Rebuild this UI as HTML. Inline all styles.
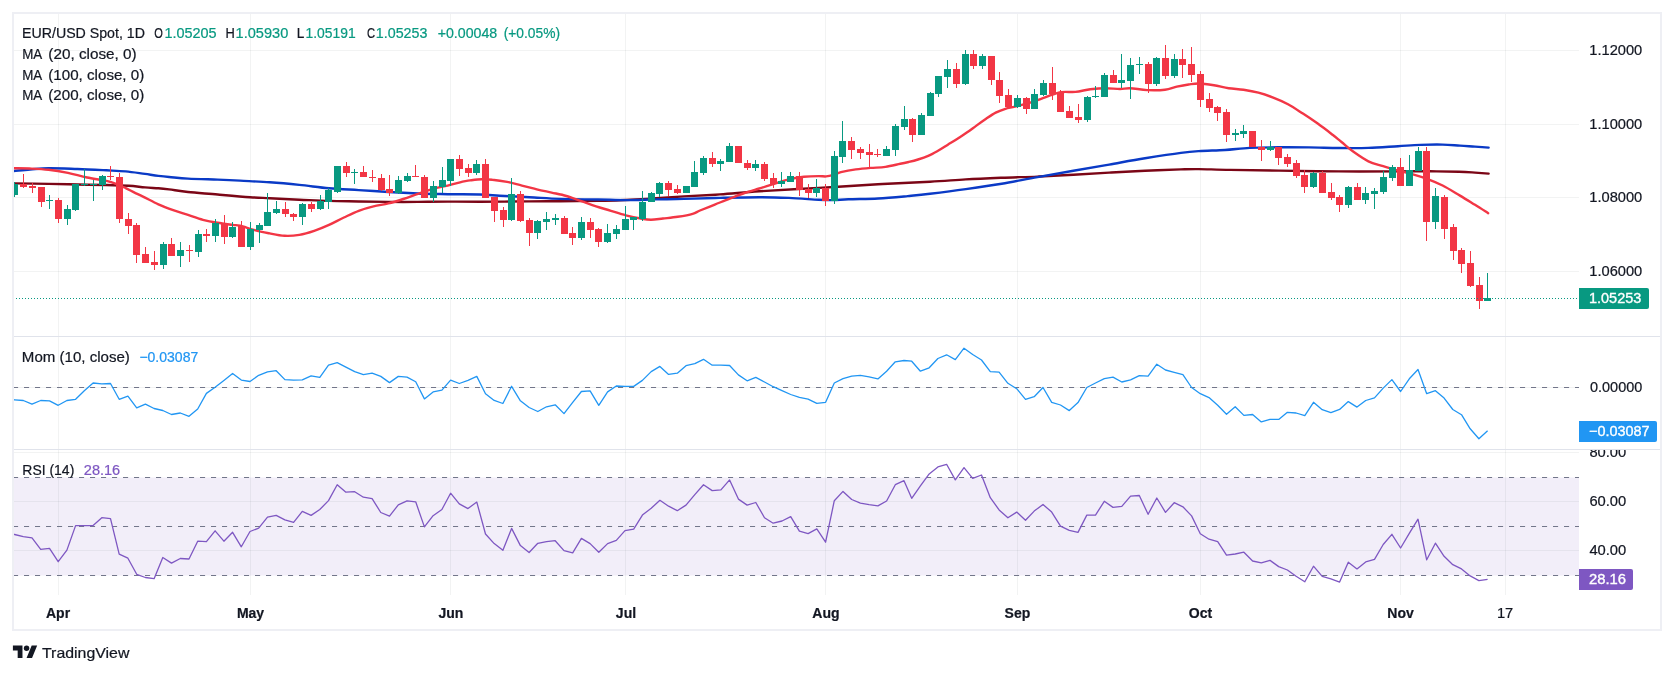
<!DOCTYPE html><html><head><meta charset="utf-8"><title>EUR/USD</title><style>html,body{margin:0;padding:0;background:#fff}body{width:1674px;height:674px;overflow:hidden}</style></head><body><svg width="1674" height="674" viewBox="0 0 1674 674" style="will-change:transform;display:block;font-family:'Liberation Sans',sans-serif">
<rect width="1674" height="674" fill="#fff"/>
<defs><clipPath id="cp"><rect x="14" y="14" width="1565" height="322"/></clipPath><clipPath id="cm"><rect x="14" y="337" width="1565" height="112"/></clipPath><clipPath id="cr"><rect x="14" y="450" width="1565" height="145"/></clipPath><clipPath id="cax"><rect x="1579" y="450" width="81" height="145"/></clipPath></defs>
<rect x="14" y="477.5" width="1565" height="98" fill="#f2eef9"/>
<rect x="58" y="14" width="1" height="581" fill="rgba(42,46,57,0.06)"/>
<rect x="250" y="14" width="1" height="581" fill="rgba(42,46,57,0.06)"/>
<rect x="450" y="14" width="1" height="581" fill="rgba(42,46,57,0.06)"/>
<rect x="625" y="14" width="1" height="581" fill="rgba(42,46,57,0.06)"/>
<rect x="825" y="14" width="1" height="581" fill="rgba(42,46,57,0.06)"/>
<rect x="1017" y="14" width="1" height="581" fill="rgba(42,46,57,0.06)"/>
<rect x="1200" y="14" width="1" height="581" fill="rgba(42,46,57,0.06)"/>
<rect x="1400" y="14" width="1" height="581" fill="rgba(42,46,57,0.06)"/>
<rect x="1505" y="14" width="1" height="581" fill="rgba(42,46,57,0.06)"/>
<rect x="14" y="50" width="1565" height="1" fill="rgba(42,46,57,0.06)"/>
<rect x="14" y="124" width="1565" height="1" fill="rgba(42,46,57,0.06)"/>
<rect x="14" y="197" width="1565" height="1" fill="rgba(42,46,57,0.06)"/>
<rect x="14" y="271" width="1565" height="1" fill="rgba(42,46,57,0.06)"/>
<rect x="14" y="387" width="1565" height="1" fill="rgba(42,46,57,0.06)"/>
<rect x="14" y="452" width="1565" height="1" fill="rgba(42,46,57,0.06)"/>
<rect x="14" y="501" width="1565" height="1" fill="rgba(42,46,57,0.06)"/>
<rect x="14" y="550" width="1565" height="1" fill="rgba(42,46,57,0.06)"/>
<rect x="14" y="336" width="1647" height="1" fill="#e0e3eb"/>
<rect x="14" y="449" width="1647" height="1" fill="#e0e3eb"/>
<path d="M13 387.5H1579" stroke="#72768a" stroke-width="1" stroke-dasharray="5.1 5.9" fill="none"/>
<path d="M13 477.5H1579" stroke="#72768a" stroke-width="1" stroke-dasharray="5.1 5.9" fill="none"/>
<path d="M13 526.5H1579" stroke="#72768a" stroke-width="1" stroke-dasharray="5.1 5.9" fill="none"/>
<path d="M13 575.5H1579" stroke="#72768a" stroke-width="1" stroke-dasharray="5.1 5.9" fill="none"/>
<g clip-path="url(#cp)" fill="none" stroke-linejoin="round" stroke-linecap="round">
<path d="M13.0 183.4C18.9 183.5 37.9 183.7 48.6 183.9C59.4 184.1 67.9 184.3 77.5 184.5C87.1 184.7 97.9 184.8 106.4 185.0C114.9 185.2 122.3 185.4 128.7 185.8C135.1 186.2 140.1 187.0 145.0 187.4C149.9 187.8 154.4 188.0 158.4 188.3C162.4 188.6 164.2 188.8 169.1 189.4C174.0 190.0 179.9 191.2 188.0 192.0C196.1 192.8 207.4 193.6 217.7 194.5C228.0 195.4 241.3 196.6 250.0 197.2C258.7 197.8 261.5 197.8 269.7 198.2C277.9 198.6 289.4 199.2 299.3 199.7C309.2 200.1 319.1 200.6 329.0 200.9C338.9 201.2 348.8 201.3 358.7 201.5C368.6 201.7 378.5 201.8 388.4 201.9C398.3 202.0 408.1 202.0 418.0 201.9C427.9 201.8 437.4 201.6 447.7 201.6C458.0 201.6 466.4 201.7 480.0 201.7C493.6 201.7 516.0 201.5 529.3 201.4C542.6 201.3 548.5 201.3 560.0 201.2C571.5 201.1 588.0 201.0 598.0 200.8C608.0 200.6 612.8 200.5 620.0 200.2C627.2 199.9 635.0 199.5 641.0 199.2C647.0 198.9 648.8 198.7 656.0 198.2C663.2 197.7 673.3 197.0 684.0 196.4C694.7 195.8 707.5 195.2 720.0 194.4C732.5 193.6 742.8 192.4 759.3 191.3C775.8 190.2 798.9 189.1 818.7 187.9C838.5 186.7 859.5 185.3 878.0 184.3C896.5 183.3 915.4 182.5 930.0 181.7C944.6 180.9 953.8 180.1 965.8 179.4C977.8 178.7 989.8 178.2 1001.7 177.7C1013.7 177.2 1025.5 177.1 1037.5 176.6C1049.5 176.1 1061.5 175.5 1073.4 174.8C1085.4 174.1 1097.3 173.3 1109.2 172.6C1121.1 171.9 1133.0 171.3 1145.0 170.8C1157.0 170.3 1171.9 169.7 1180.9 169.4C1189.9 169.1 1190.6 169.0 1198.8 169.1C1207.0 169.2 1216.6 169.7 1230.0 169.9C1243.4 170.2 1260.9 170.3 1279.0 170.6C1297.1 170.8 1318.9 171.3 1338.7 171.4C1358.5 171.5 1382.8 171.4 1398.0 171.4C1413.2 171.4 1419.8 171.2 1430.0 171.3C1440.2 171.4 1451.4 171.6 1458.9 171.8C1466.4 172.0 1470.0 172.3 1475.0 172.6C1480.0 172.9 1486.3 173.4 1488.6 173.6" stroke="#7b0616" stroke-width="2.4"/>
<path d="M13.4 171.0C16.2 170.8 24.1 169.9 30.0 169.5C35.9 169.1 40.7 168.4 48.6 168.3C56.5 168.2 67.9 168.7 77.5 169.0C87.1 169.3 98.4 169.9 106.4 170.3C114.4 170.7 119.3 170.8 125.7 171.4C132.1 172.0 139.6 173.2 145.0 173.9C150.4 174.7 154.4 175.4 158.4 175.9C162.4 176.4 164.2 176.6 169.1 177.0C174.0 177.4 179.9 178.2 188.0 178.6C196.1 179.0 209.0 179.3 217.7 179.6C226.4 179.9 231.3 180.1 240.0 180.6C248.7 181.1 259.8 181.6 269.7 182.3C279.6 183.0 289.4 183.9 299.3 184.9C309.2 185.9 319.1 187.4 329.0 188.3C338.9 189.2 348.8 189.5 358.7 190.1C368.6 190.7 378.5 191.4 388.4 192.0C398.3 192.6 408.1 193.1 418.0 193.5C427.9 193.9 437.4 194.0 447.7 194.2C458.0 194.4 471.3 194.2 480.0 194.5C488.7 194.8 491.5 195.2 499.7 195.7C507.9 196.1 519.2 196.7 529.3 197.2C539.3 197.7 548.5 198.5 560.0 198.9C571.5 199.3 586.8 199.3 598.0 199.5C609.2 199.7 617.4 200.1 627.0 200.1C636.6 200.1 646.1 199.6 655.6 199.4C665.1 199.2 673.3 199.2 684.0 198.9C694.7 198.7 707.5 198.2 720.0 197.9C732.5 197.6 747.8 197.2 759.3 197.2C770.8 197.2 779.1 197.5 789.0 197.9C798.9 198.3 811.3 199.4 818.7 199.8C826.1 200.2 828.5 200.2 833.5 200.1C838.5 200.0 841.0 199.6 848.4 199.3C855.8 199.0 868.1 199.0 878.0 198.5C887.9 198.0 899.0 196.9 907.7 196.1C916.4 195.3 920.3 195.0 930.0 193.8C939.7 192.6 953.8 190.8 965.8 189.1C977.8 187.4 989.8 185.7 1001.7 183.7C1013.7 181.7 1025.5 179.2 1037.5 177.1C1049.5 174.9 1061.5 172.9 1073.4 170.8C1085.4 168.7 1097.3 166.7 1109.2 164.6C1121.1 162.5 1133.0 160.2 1145.0 158.3C1157.0 156.4 1171.9 154.1 1180.9 152.9C1189.9 151.7 1191.5 151.6 1198.8 151.1C1206.1 150.6 1216.5 150.5 1225.0 150.0C1233.5 149.5 1240.7 148.3 1249.7 147.9C1258.8 147.5 1269.4 147.4 1279.3 147.3C1289.2 147.2 1299.1 147.3 1309.0 147.4C1318.9 147.5 1328.8 147.9 1338.7 148.0C1348.6 148.1 1358.5 148.2 1368.4 147.9C1378.3 147.6 1389.3 146.7 1398.0 146.2C1406.7 145.7 1412.9 145.2 1420.3 144.9C1427.7 144.6 1436.0 144.5 1442.6 144.6C1449.2 144.7 1454.6 145.3 1460.0 145.6C1465.4 145.9 1470.2 146.3 1475.0 146.6C1479.8 146.9 1486.3 147.4 1488.6 147.6" stroke="#0a3ac6" stroke-width="2.4"/>
<path d="M13.4 168.3C16.1 168.3 23.4 168.2 29.3 168.5C35.2 168.8 42.2 169.1 48.6 169.8C55.0 170.5 61.5 171.6 67.9 172.9C74.3 174.2 80.7 176.2 87.1 177.5C93.5 178.8 101.6 179.8 106.4 180.9C111.2 182.0 112.8 182.6 116.0 183.8C119.2 185.0 122.5 186.6 125.7 188.1C128.9 189.6 132.0 191.4 135.0 192.8C138.0 194.2 139.6 194.9 143.5 196.8C147.4 198.7 153.5 202.1 158.4 204.3C163.3 206.5 168.3 208.4 173.2 210.2C178.1 212.0 183.1 213.3 188.0 214.9C192.9 216.5 198.0 218.5 202.9 219.8C207.8 221.1 212.8 222.0 217.7 222.8C222.6 223.7 228.9 224.4 232.6 224.9C236.3 225.4 236.3 224.8 240.0 225.7C243.7 226.6 249.9 228.8 254.8 230.1C259.8 231.4 264.8 232.4 269.7 233.4C274.6 234.4 279.6 235.6 284.5 235.8C289.4 236.1 294.4 235.7 299.3 234.9C304.2 234.1 309.2 232.6 314.2 230.9C319.1 229.2 324.1 227.1 329.0 224.9C333.9 222.7 338.9 219.8 343.9 217.5C348.8 215.2 353.8 212.7 358.7 210.8C363.6 209.0 368.6 207.6 373.5 206.4C378.4 205.2 383.4 204.6 388.4 203.4C393.3 202.2 398.3 200.6 403.2 199.0C408.1 197.4 413.1 195.5 418.0 193.8C422.9 192.1 427.9 190.3 432.9 188.9C437.8 187.5 442.8 186.8 447.7 185.6C452.6 184.4 458.9 182.5 462.6 181.6C466.3 180.7 466.8 180.8 470.0 180.4C473.2 180.0 478.2 179.3 481.9 179.2C485.6 179.1 488.1 179.2 492.3 179.7C496.5 180.1 502.2 180.9 507.1 181.9C512.0 182.9 517.0 184.4 521.9 185.6C526.8 186.8 531.8 188.1 536.8 189.3C541.8 190.5 546.7 191.5 551.6 192.6C556.5 193.7 561.5 194.6 566.4 196.0C571.3 197.4 576.3 199.5 581.3 201.2C586.2 202.9 591.2 204.8 596.1 206.4C601.0 208.0 606.0 209.3 610.9 210.8C615.8 212.3 620.8 214.0 625.8 215.3C630.8 216.6 636.4 217.8 640.6 218.5C644.8 219.2 647.3 219.7 651.0 219.7C654.7 219.7 658.4 219.0 662.9 218.5C667.4 218.0 672.8 217.6 677.7 216.8C682.7 216.0 688.9 214.9 692.6 213.8C696.3 212.8 696.3 212.0 700.0 210.5C703.7 209.0 709.8 206.6 714.8 204.6C719.8 202.6 724.8 200.5 729.7 198.6C734.7 196.7 739.6 194.7 744.5 193.0C749.4 191.3 754.3 190.0 759.3 188.5C764.2 187.0 769.2 185.3 774.2 183.8C779.2 182.3 784.0 180.5 789.0 179.3C794.0 178.1 798.9 177.2 803.9 176.7C808.9 176.2 815.0 176.1 818.7 176.1C822.4 176.1 823.6 176.6 826.1 176.4C828.6 176.2 831.0 175.6 833.5 174.9C836.0 174.2 837.2 173.1 840.9 172.2C844.6 171.3 850.8 170.1 855.8 169.4C860.8 168.7 865.6 168.3 870.6 167.9C875.6 167.5 880.5 167.6 885.5 166.9C890.5 166.2 896.4 164.6 900.3 163.8C904.2 163.0 905.9 162.6 908.9 161.9C911.9 161.2 914.8 160.5 918.0 159.5C921.2 158.5 924.9 157.3 928.2 155.9C931.5 154.5 934.8 152.6 938.0 150.8C941.2 149.0 944.3 146.9 947.5 144.9C950.7 142.9 953.9 141.1 957.1 139.0C960.3 136.9 963.6 134.8 966.8 132.6C970.0 130.4 973.2 127.9 976.4 125.6C979.6 123.3 982.9 121.0 986.1 118.8C989.3 116.6 992.5 114.3 995.7 112.6C998.9 110.9 1002.2 109.8 1005.4 108.8C1008.6 107.8 1010.7 107.7 1015.0 106.6C1019.3 105.5 1025.9 103.9 1031.0 102.3C1036.1 100.7 1040.9 98.8 1045.8 97.1C1050.7 95.4 1055.6 93.1 1060.6 92.2C1065.5 91.3 1070.5 92.4 1075.5 91.9C1080.5 91.4 1085.4 89.9 1090.3 89.3C1095.2 88.7 1100.1 88.2 1105.1 88.2C1110.0 88.2 1115.8 89.0 1120.0 89.0C1124.2 89.0 1125.5 88.0 1130.0 88.2C1134.5 88.4 1141.3 89.8 1147.1 90.1C1152.9 90.3 1160.0 90.3 1164.9 89.7C1169.9 89.1 1172.8 87.6 1176.8 86.7C1180.8 85.8 1184.9 85.0 1188.6 84.5C1192.3 84.0 1194.8 83.4 1199.0 83.5C1203.2 83.6 1209.0 84.5 1213.9 85.3C1218.9 86.1 1223.8 87.5 1228.7 88.2C1233.6 88.9 1238.5 89.0 1243.5 89.7C1248.5 90.5 1253.5 91.4 1258.4 92.7C1263.4 94.0 1268.3 95.7 1273.2 97.6C1278.1 99.5 1283.0 101.5 1288.0 104.2C1293.0 106.9 1298.0 110.4 1302.9 113.6C1307.9 116.8 1312.8 120.1 1317.7 123.6C1322.7 127.1 1328.6 131.7 1332.6 134.8C1336.6 137.9 1338.0 139.2 1341.5 142.0C1345.0 144.8 1349.0 148.6 1353.5 151.8C1358.0 155.0 1363.5 158.9 1368.4 161.3C1373.4 163.7 1378.3 164.6 1383.2 166.2C1388.1 167.8 1393.0 169.2 1398.0 170.6C1403.0 171.9 1408.0 172.9 1412.9 174.3C1417.9 175.7 1422.8 177.2 1427.7 179.1C1432.7 181.0 1437.2 182.8 1442.6 185.5C1448.0 188.2 1454.6 192.4 1460.0 195.6C1465.4 198.8 1470.3 201.9 1475.0 204.8C1479.7 207.7 1486.0 211.8 1488.2 213.2" stroke="#f23645" stroke-width="2.4"/>
</g>
<g clip-path="url(#cp)" shape-rendering="crispEdges">
<rect x="14.0" y="182" width="1" height="15" fill="#089981"/>
<rect x="11.0" y="184" width="7" height="11" fill="#089981"/>
<rect x="23.0" y="174" width="1" height="14" fill="#f23645"/>
<rect x="20.0" y="184" width="7" height="3" fill="#f23645"/>
<rect x="32.0" y="183" width="1" height="10" fill="#f23645"/>
<rect x="29.0" y="186" width="7" height="2" fill="#f23645"/>
<rect x="41.0" y="187" width="1" height="20" fill="#f23645"/>
<rect x="38.0" y="187" width="7" height="15" fill="#f23645"/>
<rect x="49.0" y="195" width="1" height="14" fill="#089981"/>
<rect x="46.0" y="200" width="7" height="1" fill="#089981"/>
<rect x="58.0" y="198" width="1" height="25" fill="#f23645"/>
<rect x="55.0" y="200" width="7" height="19" fill="#f23645"/>
<rect x="67.0" y="205" width="1" height="20" fill="#089981"/>
<rect x="64.0" y="209" width="7" height="10" fill="#089981"/>
<rect x="75.0" y="184" width="1" height="27" fill="#089981"/>
<rect x="72.0" y="184" width="7" height="26" fill="#089981"/>
<rect x="84.0" y="169" width="1" height="17" fill="#089981"/>
<rect x="81.0" y="184" width="7" height="1" fill="#089981"/>
<rect x="93.0" y="180" width="1" height="21" fill="#089981"/>
<rect x="90.0" y="184" width="7" height="1" fill="#089981"/>
<rect x="102.0" y="175" width="1" height="15" fill="#089981"/>
<rect x="99.0" y="176" width="7" height="9" fill="#089981"/>
<rect x="110.0" y="166" width="1" height="14" fill="#f23645"/>
<rect x="107.0" y="176" width="7" height="1" fill="#f23645"/>
<rect x="119.0" y="173" width="1" height="50" fill="#f23645"/>
<rect x="116.0" y="177" width="7" height="42" fill="#f23645"/>
<rect x="128.0" y="213" width="1" height="21" fill="#f23645"/>
<rect x="125.0" y="219" width="7" height="7" fill="#f23645"/>
<rect x="136.0" y="223" width="1" height="40" fill="#f23645"/>
<rect x="133.0" y="225" width="7" height="30" fill="#f23645"/>
<rect x="145.0" y="247" width="1" height="16" fill="#f23645"/>
<rect x="142.0" y="254" width="7" height="9" fill="#f23645"/>
<rect x="154.0" y="251" width="1" height="19" fill="#f23645"/>
<rect x="151.0" y="262" width="7" height="3" fill="#f23645"/>
<rect x="163.0" y="242" width="1" height="27" fill="#089981"/>
<rect x="160.0" y="244" width="7" height="21" fill="#089981"/>
<rect x="171.0" y="238" width="1" height="18" fill="#f23645"/>
<rect x="168.0" y="244" width="7" height="12" fill="#f23645"/>
<rect x="180.0" y="242" width="1" height="25" fill="#089981"/>
<rect x="177.0" y="250" width="7" height="6" fill="#089981"/>
<rect x="189.0" y="245" width="1" height="17" fill="#f23645"/>
<rect x="186.0" y="250" width="7" height="1" fill="#f23645"/>
<rect x="198.0" y="230" width="1" height="27" fill="#089981"/>
<rect x="195.0" y="234" width="7" height="18" fill="#089981"/>
<rect x="206.0" y="229" width="1" height="13" fill="#f23645"/>
<rect x="203.0" y="234" width="7" height="2" fill="#f23645"/>
<rect x="215.0" y="219" width="1" height="23" fill="#089981"/>
<rect x="212.0" y="223" width="7" height="13" fill="#089981"/>
<rect x="224.0" y="215" width="1" height="29" fill="#f23645"/>
<rect x="221.0" y="223" width="7" height="14" fill="#f23645"/>
<rect x="232.0" y="222" width="1" height="16" fill="#089981"/>
<rect x="229.0" y="227" width="7" height="10" fill="#089981"/>
<rect x="241.0" y="221" width="1" height="26" fill="#f23645"/>
<rect x="238.0" y="226" width="7" height="21" fill="#f23645"/>
<rect x="250.0" y="222" width="1" height="28" fill="#089981"/>
<rect x="247.0" y="229" width="7" height="18" fill="#089981"/>
<rect x="259.0" y="223" width="1" height="20" fill="#089981"/>
<rect x="256.0" y="225" width="7" height="5" fill="#089981"/>
<rect x="267.0" y="193" width="1" height="33" fill="#089981"/>
<rect x="264.0" y="212" width="7" height="14" fill="#089981"/>
<rect x="276.0" y="201" width="1" height="13" fill="#089981"/>
<rect x="273.0" y="209" width="7" height="4" fill="#089981"/>
<rect x="285.0" y="202" width="1" height="15" fill="#f23645"/>
<rect x="282.0" y="209" width="7" height="5" fill="#f23645"/>
<rect x="293.0" y="213" width="1" height="8" fill="#f23645"/>
<rect x="290.0" y="214" width="7" height="3" fill="#f23645"/>
<rect x="302.0" y="203" width="1" height="22" fill="#089981"/>
<rect x="299.0" y="204" width="7" height="13" fill="#089981"/>
<rect x="311.0" y="202" width="1" height="10" fill="#f23645"/>
<rect x="308.0" y="204" width="7" height="5" fill="#f23645"/>
<rect x="320.0" y="195" width="1" height="15" fill="#089981"/>
<rect x="317.0" y="201" width="7" height="8" fill="#089981"/>
<rect x="328.0" y="188" width="1" height="21" fill="#089981"/>
<rect x="325.0" y="190" width="7" height="12" fill="#089981"/>
<rect x="337.0" y="166" width="1" height="27" fill="#089981"/>
<rect x="334.0" y="166" width="7" height="26" fill="#089981"/>
<rect x="346.0" y="162" width="1" height="15" fill="#f23645"/>
<rect x="343.0" y="166" width="7" height="7" fill="#f23645"/>
<rect x="354.0" y="169" width="1" height="15" fill="#089981"/>
<rect x="351.0" y="172" width="7" height="1" fill="#089981"/>
<rect x="363.0" y="166" width="1" height="11" fill="#f23645"/>
<rect x="360.0" y="172" width="7" height="5" fill="#f23645"/>
<rect x="372.0" y="170" width="1" height="12" fill="#f23645"/>
<rect x="369.0" y="177" width="7" height="1" fill="#f23645"/>
<rect x="381.0" y="174" width="1" height="17" fill="#f23645"/>
<rect x="378.0" y="178" width="7" height="12" fill="#f23645"/>
<rect x="389.0" y="175" width="1" height="21" fill="#f23645"/>
<rect x="386.0" y="189" width="7" height="4" fill="#f23645"/>
<rect x="398.0" y="176" width="1" height="18" fill="#089981"/>
<rect x="395.0" y="180" width="7" height="13" fill="#089981"/>
<rect x="407.0" y="173" width="1" height="9" fill="#089981"/>
<rect x="404.0" y="176" width="7" height="5" fill="#089981"/>
<rect x="415.0" y="165" width="1" height="12" fill="#f23645"/>
<rect x="412.0" y="176" width="7" height="1" fill="#f23645"/>
<rect x="424.0" y="175" width="1" height="23" fill="#f23645"/>
<rect x="421.0" y="177" width="7" height="21" fill="#f23645"/>
<rect x="433.0" y="181" width="1" height="21" fill="#089981"/>
<rect x="430.0" y="186" width="7" height="12" fill="#089981"/>
<rect x="442.0" y="167" width="1" height="26" fill="#089981"/>
<rect x="439.0" y="180" width="7" height="7" fill="#089981"/>
<rect x="450.0" y="159" width="1" height="27" fill="#089981"/>
<rect x="447.0" y="159" width="7" height="22" fill="#089981"/>
<rect x="459.0" y="155" width="1" height="21" fill="#f23645"/>
<rect x="456.0" y="159" width="7" height="10" fill="#f23645"/>
<rect x="468.0" y="164" width="1" height="13" fill="#f23645"/>
<rect x="465.0" y="168" width="7" height="5" fill="#f23645"/>
<rect x="476.0" y="160" width="1" height="15" fill="#089981"/>
<rect x="473.0" y="164" width="7" height="9" fill="#089981"/>
<rect x="485.0" y="159" width="1" height="39" fill="#f23645"/>
<rect x="482.0" y="164" width="7" height="34" fill="#f23645"/>
<rect x="494.0" y="197" width="1" height="25" fill="#f23645"/>
<rect x="491.0" y="197" width="7" height="14" fill="#f23645"/>
<rect x="503.0" y="207" width="1" height="20" fill="#f23645"/>
<rect x="500.0" y="210" width="7" height="10" fill="#f23645"/>
<rect x="511.0" y="178" width="1" height="43" fill="#089981"/>
<rect x="508.0" y="194" width="7" height="26" fill="#089981"/>
<rect x="520.0" y="191" width="1" height="31" fill="#f23645"/>
<rect x="517.0" y="194" width="7" height="27" fill="#f23645"/>
<rect x="529.0" y="218" width="1" height="28" fill="#f23645"/>
<rect x="526.0" y="220" width="7" height="13" fill="#f23645"/>
<rect x="537.0" y="220" width="1" height="19" fill="#089981"/>
<rect x="534.0" y="221" width="7" height="12" fill="#089981"/>
<rect x="546.0" y="212" width="1" height="18" fill="#089981"/>
<rect x="543.0" y="219" width="7" height="3" fill="#089981"/>
<rect x="555.0" y="214" width="1" height="11" fill="#089981"/>
<rect x="552.0" y="218" width="7" height="2" fill="#089981"/>
<rect x="564.0" y="216" width="1" height="18" fill="#f23645"/>
<rect x="561.0" y="218" width="7" height="16" fill="#f23645"/>
<rect x="572.0" y="227" width="1" height="18" fill="#f23645"/>
<rect x="569.0" y="233" width="7" height="5" fill="#f23645"/>
<rect x="581.0" y="217" width="1" height="23" fill="#089981"/>
<rect x="578.0" y="222" width="7" height="16" fill="#089981"/>
<rect x="590.0" y="218" width="1" height="20" fill="#f23645"/>
<rect x="587.0" y="222" width="7" height="8" fill="#f23645"/>
<rect x="598.0" y="228" width="1" height="19" fill="#f23645"/>
<rect x="595.0" y="229" width="7" height="13" fill="#f23645"/>
<rect x="607.0" y="224" width="1" height="19" fill="#089981"/>
<rect x="604.0" y="233" width="7" height="9" fill="#089981"/>
<rect x="616.0" y="225" width="1" height="14" fill="#089981"/>
<rect x="613.0" y="229" width="7" height="5" fill="#089981"/>
<rect x="625.0" y="206" width="1" height="24" fill="#089981"/>
<rect x="622.0" y="219" width="7" height="11" fill="#089981"/>
<rect x="633.0" y="217" width="1" height="13" fill="#089981"/>
<rect x="630.0" y="217" width="7" height="3" fill="#089981"/>
<rect x="642.0" y="191" width="1" height="30" fill="#089981"/>
<rect x="639.0" y="202" width="7" height="17" fill="#089981"/>
<rect x="651.0" y="192" width="1" height="10" fill="#089981"/>
<rect x="648.0" y="193" width="7" height="9" fill="#089981"/>
<rect x="659.0" y="182" width="1" height="15" fill="#089981"/>
<rect x="656.0" y="183" width="7" height="11" fill="#089981"/>
<rect x="668.0" y="181" width="1" height="15" fill="#f23645"/>
<rect x="665.0" y="183" width="7" height="7" fill="#f23645"/>
<rect x="677.0" y="185" width="1" height="9" fill="#f23645"/>
<rect x="674.0" y="189" width="7" height="4" fill="#f23645"/>
<rect x="686.0" y="186" width="1" height="7" fill="#089981"/>
<rect x="683.0" y="186" width="7" height="7" fill="#089981"/>
<rect x="694.0" y="161" width="1" height="26" fill="#089981"/>
<rect x="691.0" y="172" width="7" height="15" fill="#089981"/>
<rect x="703.0" y="156" width="1" height="19" fill="#089981"/>
<rect x="700.0" y="158" width="7" height="15" fill="#089981"/>
<rect x="712.0" y="152" width="1" height="15" fill="#f23645"/>
<rect x="709.0" y="158" width="7" height="6" fill="#f23645"/>
<rect x="720.0" y="159" width="1" height="12" fill="#089981"/>
<rect x="717.0" y="161" width="7" height="3" fill="#089981"/>
<rect x="729.0" y="143" width="1" height="19" fill="#089981"/>
<rect x="726.0" y="146" width="7" height="16" fill="#089981"/>
<rect x="738.0" y="146" width="1" height="17" fill="#f23645"/>
<rect x="735.0" y="146" width="7" height="17" fill="#f23645"/>
<rect x="747.0" y="160" width="1" height="10" fill="#f23645"/>
<rect x="744.0" y="163" width="7" height="5" fill="#f23645"/>
<rect x="755.0" y="160" width="1" height="11" fill="#089981"/>
<rect x="752.0" y="164" width="7" height="4" fill="#089981"/>
<rect x="764.0" y="162" width="1" height="19" fill="#f23645"/>
<rect x="761.0" y="164" width="7" height="15" fill="#f23645"/>
<rect x="773.0" y="173" width="1" height="15" fill="#f23645"/>
<rect x="770.0" y="178" width="7" height="6" fill="#f23645"/>
<rect x="781.0" y="172" width="1" height="15" fill="#089981"/>
<rect x="778.0" y="181" width="7" height="3" fill="#089981"/>
<rect x="790.0" y="172" width="1" height="10" fill="#089981"/>
<rect x="787.0" y="176" width="7" height="6" fill="#089981"/>
<rect x="799.0" y="172" width="1" height="24" fill="#f23645"/>
<rect x="796.0" y="176" width="7" height="14" fill="#f23645"/>
<rect x="808.0" y="184" width="1" height="14" fill="#f23645"/>
<rect x="805.0" y="189" width="7" height="4" fill="#f23645"/>
<rect x="816.0" y="179" width="1" height="18" fill="#089981"/>
<rect x="813.0" y="188" width="7" height="5" fill="#089981"/>
<rect x="825.0" y="184" width="1" height="22" fill="#f23645"/>
<rect x="822.0" y="188" width="7" height="13" fill="#f23645"/>
<rect x="834.0" y="151" width="1" height="53" fill="#089981"/>
<rect x="831.0" y="156" width="7" height="45" fill="#089981"/>
<rect x="842.0" y="121" width="1" height="42" fill="#089981"/>
<rect x="839.0" y="141" width="7" height="16" fill="#089981"/>
<rect x="851.0" y="137" width="1" height="22" fill="#f23645"/>
<rect x="848.0" y="141" width="7" height="9" fill="#f23645"/>
<rect x="860.0" y="147" width="1" height="12" fill="#f23645"/>
<rect x="857.0" y="149" width="7" height="4" fill="#f23645"/>
<rect x="869.0" y="144" width="1" height="23" fill="#f23645"/>
<rect x="866.0" y="152" width="7" height="3" fill="#f23645"/>
<rect x="877.0" y="149" width="1" height="8" fill="#f23645"/>
<rect x="874.0" y="154" width="7" height="1" fill="#f23645"/>
<rect x="886.0" y="146" width="1" height="10" fill="#089981"/>
<rect x="883.0" y="149" width="7" height="7" fill="#089981"/>
<rect x="895.0" y="124" width="1" height="32" fill="#089981"/>
<rect x="892.0" y="126" width="7" height="24" fill="#089981"/>
<rect x="904.0" y="106" width="1" height="24" fill="#089981"/>
<rect x="901.0" y="119" width="7" height="8" fill="#089981"/>
<rect x="912.0" y="118" width="1" height="24" fill="#f23645"/>
<rect x="909.0" y="119" width="7" height="16" fill="#f23645"/>
<rect x="921.0" y="113" width="1" height="22" fill="#089981"/>
<rect x="918.0" y="115" width="7" height="20" fill="#089981"/>
<rect x="930.0" y="92" width="1" height="24" fill="#089981"/>
<rect x="927.0" y="93" width="7" height="23" fill="#089981"/>
<rect x="938.0" y="76" width="1" height="21" fill="#089981"/>
<rect x="935.0" y="76" width="7" height="18" fill="#089981"/>
<rect x="947.0" y="60" width="1" height="28" fill="#089981"/>
<rect x="944.0" y="69" width="7" height="8" fill="#089981"/>
<rect x="956.0" y="63" width="1" height="25" fill="#f23645"/>
<rect x="953.0" y="69" width="7" height="15" fill="#f23645"/>
<rect x="965.0" y="50" width="1" height="35" fill="#089981"/>
<rect x="962.0" y="54" width="7" height="30" fill="#089981"/>
<rect x="973.0" y="50" width="1" height="19" fill="#f23645"/>
<rect x="970.0" y="54" width="7" height="12" fill="#f23645"/>
<rect x="982.0" y="54" width="1" height="15" fill="#089981"/>
<rect x="979.0" y="56" width="7" height="10" fill="#089981"/>
<rect x="991.0" y="56" width="1" height="29" fill="#f23645"/>
<rect x="988.0" y="56" width="7" height="24" fill="#f23645"/>
<rect x="999.0" y="72" width="1" height="31" fill="#f23645"/>
<rect x="996.0" y="80" width="7" height="16" fill="#f23645"/>
<rect x="1008.0" y="89" width="1" height="18" fill="#f23645"/>
<rect x="1005.0" y="95" width="7" height="12" fill="#f23645"/>
<rect x="1017.0" y="95" width="1" height="13" fill="#089981"/>
<rect x="1014.0" y="98" width="7" height="9" fill="#089981"/>
<rect x="1026.0" y="97" width="1" height="17" fill="#f23645"/>
<rect x="1023.0" y="98" width="7" height="11" fill="#f23645"/>
<rect x="1034.0" y="89" width="1" height="20" fill="#089981"/>
<rect x="1031.0" y="94" width="7" height="15" fill="#089981"/>
<rect x="1043.0" y="80" width="1" height="16" fill="#089981"/>
<rect x="1040.0" y="83" width="7" height="12" fill="#089981"/>
<rect x="1052.0" y="67" width="1" height="33" fill="#f23645"/>
<rect x="1049.0" y="83" width="7" height="11" fill="#f23645"/>
<rect x="1060.0" y="90" width="1" height="22" fill="#f23645"/>
<rect x="1057.0" y="92" width="7" height="20" fill="#f23645"/>
<rect x="1069.0" y="106" width="1" height="12" fill="#f23645"/>
<rect x="1066.0" y="111" width="7" height="7" fill="#f23645"/>
<rect x="1078.0" y="104" width="1" height="19" fill="#f23645"/>
<rect x="1075.0" y="117" width="7" height="3" fill="#f23645"/>
<rect x="1087.0" y="96" width="1" height="26" fill="#089981"/>
<rect x="1084.0" y="97" width="7" height="23" fill="#089981"/>
<rect x="1095.0" y="86" width="1" height="12" fill="#089981"/>
<rect x="1092.0" y="96" width="7" height="1" fill="#089981"/>
<rect x="1104.0" y="73" width="1" height="24" fill="#089981"/>
<rect x="1101.0" y="75" width="7" height="22" fill="#089981"/>
<rect x="1113.0" y="70" width="1" height="13" fill="#f23645"/>
<rect x="1110.0" y="75" width="7" height="8" fill="#f23645"/>
<rect x="1121.0" y="54" width="1" height="34" fill="#089981"/>
<rect x="1118.0" y="80" width="7" height="3" fill="#089981"/>
<rect x="1130.0" y="58" width="1" height="41" fill="#089981"/>
<rect x="1127.0" y="65" width="7" height="16" fill="#089981"/>
<rect x="1139.0" y="57" width="1" height="17" fill="#089981"/>
<rect x="1136.0" y="64" width="7" height="1" fill="#089981"/>
<rect x="1148.0" y="62" width="1" height="31" fill="#f23645"/>
<rect x="1145.0" y="64" width="7" height="20" fill="#f23645"/>
<rect x="1156.0" y="57" width="1" height="29" fill="#089981"/>
<rect x="1153.0" y="58" width="7" height="26" fill="#089981"/>
<rect x="1165.0" y="45" width="1" height="34" fill="#f23645"/>
<rect x="1162.0" y="58" width="7" height="18" fill="#f23645"/>
<rect x="1174.0" y="54" width="1" height="24" fill="#089981"/>
<rect x="1171.0" y="59" width="7" height="17" fill="#089981"/>
<rect x="1182.0" y="49" width="1" height="29" fill="#f23645"/>
<rect x="1179.0" y="59" width="7" height="6" fill="#f23645"/>
<rect x="1191.0" y="47" width="1" height="35" fill="#f23645"/>
<rect x="1188.0" y="64" width="7" height="11" fill="#f23645"/>
<rect x="1200.0" y="71" width="1" height="36" fill="#f23645"/>
<rect x="1197.0" y="74" width="7" height="26" fill="#f23645"/>
<rect x="1209.0" y="93" width="1" height="19" fill="#f23645"/>
<rect x="1206.0" y="99" width="7" height="9" fill="#f23645"/>
<rect x="1217.0" y="106" width="1" height="15" fill="#f23645"/>
<rect x="1214.0" y="107" width="7" height="6" fill="#f23645"/>
<rect x="1226.0" y="109" width="1" height="33" fill="#f23645"/>
<rect x="1223.0" y="112" width="7" height="23" fill="#f23645"/>
<rect x="1235.0" y="129" width="1" height="12" fill="#089981"/>
<rect x="1232.0" y="133" width="7" height="2" fill="#089981"/>
<rect x="1243.0" y="125" width="1" height="13" fill="#089981"/>
<rect x="1240.0" y="131" width="7" height="3" fill="#089981"/>
<rect x="1252.0" y="131" width="1" height="16" fill="#f23645"/>
<rect x="1249.0" y="131" width="7" height="16" fill="#f23645"/>
<rect x="1261.0" y="140" width="1" height="21" fill="#f23645"/>
<rect x="1258.0" y="147" width="7" height="3" fill="#f23645"/>
<rect x="1270.0" y="141" width="1" height="10" fill="#089981"/>
<rect x="1267.0" y="147" width="7" height="3" fill="#089981"/>
<rect x="1278.0" y="147" width="1" height="18" fill="#f23645"/>
<rect x="1275.0" y="147" width="7" height="11" fill="#f23645"/>
<rect x="1287.0" y="154" width="1" height="13" fill="#f23645"/>
<rect x="1284.0" y="157" width="7" height="7" fill="#f23645"/>
<rect x="1296.0" y="160" width="1" height="18" fill="#f23645"/>
<rect x="1293.0" y="163" width="7" height="13" fill="#f23645"/>
<rect x="1304.0" y="170" width="1" height="23" fill="#f23645"/>
<rect x="1301.0" y="175" width="7" height="12" fill="#f23645"/>
<rect x="1313.0" y="172" width="1" height="16" fill="#089981"/>
<rect x="1310.0" y="173" width="7" height="14" fill="#089981"/>
<rect x="1322.0" y="171" width="1" height="22" fill="#f23645"/>
<rect x="1319.0" y="173" width="7" height="20" fill="#f23645"/>
<rect x="1331.0" y="183" width="1" height="17" fill="#f23645"/>
<rect x="1328.0" y="192" width="7" height="6" fill="#f23645"/>
<rect x="1339.0" y="195" width="1" height="17" fill="#f23645"/>
<rect x="1336.0" y="197" width="7" height="8" fill="#f23645"/>
<rect x="1348.0" y="186" width="1" height="22" fill="#089981"/>
<rect x="1345.0" y="187" width="7" height="18" fill="#089981"/>
<rect x="1357.0" y="183" width="1" height="17" fill="#f23645"/>
<rect x="1354.0" y="187" width="7" height="13" fill="#f23645"/>
<rect x="1365.0" y="187" width="1" height="17" fill="#089981"/>
<rect x="1362.0" y="193" width="7" height="7" fill="#089981"/>
<rect x="1374.0" y="188" width="1" height="21" fill="#089981"/>
<rect x="1371.0" y="191" width="7" height="3" fill="#089981"/>
<rect x="1383.0" y="171" width="1" height="23" fill="#089981"/>
<rect x="1380.0" y="177" width="7" height="15" fill="#089981"/>
<rect x="1392.0" y="165" width="1" height="16" fill="#089981"/>
<rect x="1389.0" y="167" width="7" height="11" fill="#089981"/>
<rect x="1400.0" y="158" width="1" height="28" fill="#f23645"/>
<rect x="1397.0" y="167" width="7" height="19" fill="#f23645"/>
<rect x="1409.0" y="155" width="1" height="31" fill="#089981"/>
<rect x="1406.0" y="170" width="7" height="16" fill="#089981"/>
<rect x="1418.0" y="147" width="1" height="24" fill="#089981"/>
<rect x="1415.0" y="151" width="7" height="20" fill="#089981"/>
<rect x="1426.0" y="147" width="1" height="94" fill="#f23645"/>
<rect x="1423.0" y="151" width="7" height="71" fill="#f23645"/>
<rect x="1435.0" y="188" width="1" height="41" fill="#089981"/>
<rect x="1432.0" y="196" width="7" height="26" fill="#089981"/>
<rect x="1444.0" y="195" width="1" height="44" fill="#f23645"/>
<rect x="1441.0" y="197" width="7" height="32" fill="#f23645"/>
<rect x="1453.0" y="224" width="1" height="36" fill="#f23645"/>
<rect x="1450.0" y="227" width="7" height="24" fill="#f23645"/>
<rect x="1461.0" y="248" width="1" height="25" fill="#f23645"/>
<rect x="1458.0" y="250" width="7" height="14" fill="#f23645"/>
<rect x="1470.0" y="251" width="1" height="36" fill="#f23645"/>
<rect x="1467.0" y="263" width="7" height="23" fill="#f23645"/>
<rect x="1479.0" y="277" width="1" height="32" fill="#f23645"/>
<rect x="1476.0" y="285" width="7" height="16" fill="#f23645"/>
<rect x="1487.0" y="273" width="1" height="28" fill="#089981"/>
<rect x="1484.0" y="298" width="7" height="3" fill="#089981"/>
</g>
<path d="M16 298.5H1579" stroke="#089981" stroke-width="1" stroke-dasharray="1 2" fill="none" shape-rendering="crispEdges"/>
<polyline clip-path="url(#cm)" points="5.8,399.3 14.6,399.8 23.3,400.5 32.0,404.1 40.7,400.5 49.5,400.8 58.2,405.3 66.9,400.5 75.6,399.3 84.3,390.7 93.1,383.0 101.8,383.9 110.5,383.5 119.2,399.3 127.9,396.1 136.7,407.8 145.4,404.1 154.1,408.5 162.8,410.5 171.5,414.5 180.3,413.0 189.0,416.3 197.7,409.0 206.4,393.4 215.1,387.2 223.9,380.4 232.6,373.5 241.3,380.1 250.0,381.5 258.7,375.3 267.5,371.9 276.2,370.7 284.9,379.6 293.6,380.1 302.3,379.8 311.1,375.9 319.8,377.4 328.5,365.2 337.2,362.7 345.9,367.2 354.7,371.6 363.4,374.6 372.1,373.1 380.8,376.4 389.5,382.6 398.3,376.4 407.0,377.1 415.7,381.8 424.4,398.9 433.1,391.9 441.9,390.1 450.6,380.1 459.3,383.5 468.0,380.4 476.8,376.4 485.5,393.7 494.2,400.4 502.9,403.5 511.6,386.3 520.4,400.8 529.1,407.5 537.8,411.5 546.5,406.8 555.2,404.8 564.0,413.6 572.7,402.3 581.4,391.5 590.1,390.9 598.8,405.3 607.6,391.9 616.3,386.0 625.0,386.4 633.7,386.4 642.4,380.4 651.2,371.6 659.9,366.4 668.6,374.4 677.3,373.2 686.0,365.7 694.8,363.7 703.5,359.3 712.2,365.2 720.9,365.2 729.6,365.5 738.4,374.9 747.1,380.8 755.8,377.4 764.5,382.0 773.2,386.7 782.0,390.7 790.7,394.5 799.4,397.4 808.1,399.1 816.8,403.4 825.6,402.3 834.3,383.0 843.0,378.6 851.7,376.1 860.4,375.3 869.1,376.8 877.9,378.9 886.6,371.2 895.3,361.8 904.0,360.5 911.7,361.2 920.4,371.2 929.2,367.8 937.9,358.5 946.6,354.8 955.3,359.6 964.0,348.2 972.7,354.5 981.5,360.0 990.3,371.6 999.1,372.2 1007.9,383.3 1016.7,388.7 1025.5,399.3 1034.2,396.7 1043.0,387.5 1051.7,402.3 1060.5,405.0 1069.3,410.6 1078.0,402.6 1086.8,387.5 1095.5,383.0 1104.3,378.6 1113.0,377.1 1121.8,382.0 1130.6,379.8 1139.3,375.6 1148.1,376.2 1156.8,364.2 1165.5,370.0 1174.2,372.3 1182.9,374.6 1191.6,387.5 1200.3,393.7 1209.0,397.6 1217.7,405.3 1226.5,414.2 1235.2,406.8 1243.9,415.4 1252.6,414.5 1261.3,421.9 1270.0,419.4 1278.7,419.4 1287.4,412.3 1296.1,413.0 1304.8,415.7 1313.5,402.3 1322.2,409.7 1330.9,412.7 1339.6,409.4 1348.3,401.6 1357.0,407.1 1365.7,400.5 1374.5,397.9 1383.2,388.1 1391.9,379.6 1400.6,391.5 1409.3,378.8 1418.0,369.5 1426.7,393.7 1435.4,390.7 1444.1,398.1 1452.8,409.5 1461.5,414.7 1470.2,428.8 1478.9,438.8 1487.6,430.8" fill="none" stroke="#2196f3" stroke-width="1.3" stroke-linejoin="round"/>
<polyline clip-path="url(#cr)" points="5.8,533.6 14.6,534.5 23.3,536.7 32.0,537.8 40.7,549.3 49.5,548.3 58.2,561.7 66.9,550.1 75.6,525.6 84.3,525.6 93.1,525.6 101.8,517.7 110.5,518.6 119.2,554.1 127.9,558.2 136.7,574.3 145.4,577.5 154.1,578.7 162.8,557.5 171.5,563.1 180.3,558.5 189.0,559.0 197.7,541.2 206.4,541.6 215.1,530.8 223.9,541.2 232.6,532.3 241.3,546.8 250.0,531.5 258.7,528.1 267.5,517.2 276.2,515.4 284.9,519.9 293.6,522.4 302.3,511.4 311.1,515.4 319.8,509.5 328.5,500.6 337.2,484.7 345.9,492.2 354.7,491.7 363.4,497.2 372.1,498.7 380.8,512.5 389.5,516.2 398.3,504.8 407.0,500.9 415.7,501.8 424.4,526.9 433.1,515.7 441.9,509.5 450.6,493.2 459.3,503.9 468.0,508.6 476.8,502.1 485.5,534.0 494.2,543.6 502.9,550.3 511.6,528.4 520.4,545.6 529.1,552.5 537.8,543.3 546.5,541.6 555.2,540.7 564.0,550.6 572.7,552.8 581.4,538.4 590.1,543.6 598.8,552.2 607.6,543.6 616.3,540.4 625.0,530.6 633.7,529.1 642.4,515.1 651.2,508.3 659.9,500.3 668.6,506.2 677.3,510.7 686.0,505.1 694.8,494.7 703.5,484.7 712.2,490.6 720.9,489.9 729.6,479.9 738.4,499.1 747.1,505.1 755.8,502.5 764.5,517.8 773.2,523.2 782.0,521.0 790.7,516.6 799.4,531.1 808.1,533.6 816.8,528.9 825.6,542.2 834.3,500.7 843.0,491.4 851.7,499.5 860.4,503.2 869.1,504.7 877.9,505.9 886.6,501.0 895.3,484.7 904.0,480.7 911.7,498.3 920.4,485.9 929.2,473.9 937.9,466.9 946.6,464.3 955.3,479.9 964.0,467.6 972.7,478.4 981.5,475.0 990.3,497.7 999.1,509.9 1007.9,517.8 1016.7,512.1 1025.5,520.3 1034.2,511.1 1043.0,504.4 1051.7,512.1 1060.5,526.2 1069.3,530.4 1078.0,532.4 1086.8,515.1 1095.5,515.1 1104.3,501.3 1113.0,507.4 1121.8,506.3 1130.6,496.1 1139.3,495.5 1148.1,514.3 1156.8,498.0 1165.5,512.4 1174.2,502.7 1182.9,506.8 1191.6,515.9 1200.3,533.7 1209.0,539.2 1217.7,541.7 1226.5,555.1 1235.2,554.0 1243.9,552.2 1252.6,561.0 1261.3,562.9 1270.0,560.4 1278.7,566.6 1287.4,570.0 1296.1,576.3 1304.8,581.8 1313.5,566.2 1322.2,576.3 1330.9,578.9 1339.6,582.1 1348.3,562.2 1357.0,568.9 1365.7,561.9 1374.5,559.4 1383.2,544.5 1391.9,534.3 1400.6,548.0 1409.3,533.3 1418.0,519.2 1426.7,559.8 1435.4,543.2 1444.1,556.3 1452.8,564.7 1461.5,568.9 1470.2,575.9 1478.9,580.6 1487.6,579.3" fill="none" stroke="#7e57c2" stroke-width="1.3" stroke-linejoin="round"/>
<rect x="13" y="13" width="1648" height="617" fill="none" stroke="#eeeff4" stroke-width="2"/>
<path d="M1579 288h68a2 2 0 0 1 2 2v17a2 2 0 0 1-2 2h-68z" fill="#089981"/>
<path d="M1579 421h76a2 2 0 0 1 2 2v17a2 2 0 0 1-2 2h-76z" fill="#2196f3"/>
<path d="M1579 569h52a2 2 0 0 1 2 2v17a2 2 0 0 1-2 2h-52z" fill="#7e57c2"/>
<text x="22.02" y="37.90" font-size="14.5" fill="#131722" textLength="122.94" lengthAdjust="spacingAndGlyphs" stroke="#131722" stroke-width="0.22">EUR/USD Spot, 1D</text>
<text x="154.30" y="37.90" font-size="14.5" fill="#131722" textLength="8.61" lengthAdjust="spacingAndGlyphs" stroke="#131722" stroke-width="0.22">O</text>
<text x="164.40" y="37.90" font-size="14.5" fill="#089981" textLength="52.16" lengthAdjust="spacingAndGlyphs" stroke="#089981" stroke-width="0.22">1.05205</text>
<text x="225.51" y="37.90" font-size="14.5" fill="#131722" textLength="9.31" lengthAdjust="spacingAndGlyphs" stroke="#131722" stroke-width="0.22">H</text>
<text x="235.60" y="37.90" font-size="14.5" fill="#089981" textLength="52.67" lengthAdjust="spacingAndGlyphs" stroke="#089981" stroke-width="0.22">1.05930</text>
<text x="296.66" y="37.90" font-size="14.5" fill="#131722" textLength="7.60" lengthAdjust="spacingAndGlyphs" stroke="#131722" stroke-width="0.22">L</text>
<text x="305.54" y="37.90" font-size="14.5" fill="#089981" textLength="50.12" lengthAdjust="spacingAndGlyphs" stroke="#089981" stroke-width="0.22">1.05191</text>
<text x="366.90" y="37.90" font-size="14.5" fill="#131722" textLength="8.06" lengthAdjust="spacingAndGlyphs" stroke="#131722" stroke-width="0.22">C</text>
<text x="375.82" y="37.90" font-size="14.5" fill="#089981" textLength="51.55" lengthAdjust="spacingAndGlyphs" stroke="#089981" stroke-width="0.22">1.05253</text>
<text x="437.70" y="37.90" font-size="14.5" fill="#089981" textLength="59.56" lengthAdjust="spacingAndGlyphs" stroke="#089981" stroke-width="0.22">+0.00048</text>
<text x="503.70" y="37.90" font-size="14.5" fill="#089981" textLength="56.29" lengthAdjust="spacingAndGlyphs" stroke="#089981" stroke-width="0.22">(+0.05%)</text>
<text x="22.18" y="58.60" font-size="14.5" fill="#131722" textLength="20.02" lengthAdjust="spacingAndGlyphs" stroke="#131722" stroke-width="0.22">MA</text>
<text x="48.30" y="58.60" font-size="14.5" fill="#131722" textLength="88.37" lengthAdjust="spacingAndGlyphs" stroke="#131722" stroke-width="0.22">(20, close, 0)</text>
<text x="22.18" y="79.50" font-size="14.5" fill="#131722" textLength="20.02" lengthAdjust="spacingAndGlyphs" stroke="#131722" stroke-width="0.22">MA</text>
<text x="48.30" y="79.50" font-size="14.5" fill="#131722" textLength="95.97" lengthAdjust="spacingAndGlyphs" stroke="#131722" stroke-width="0.22">(100, close, 0)</text>
<text x="22.18" y="100.30" font-size="14.5" fill="#131722" textLength="20.02" lengthAdjust="spacingAndGlyphs" stroke="#131722" stroke-width="0.22">MA</text>
<text x="48.30" y="100.30" font-size="14.5" fill="#131722" textLength="95.97" lengthAdjust="spacingAndGlyphs" stroke="#131722" stroke-width="0.22">(200, close, 0)</text>
<text x="21.86" y="361.80" font-size="14.5" fill="#131722" textLength="108.00" lengthAdjust="spacingAndGlyphs" stroke="#131722" stroke-width="0.22">Mom (10, close)</text>
<text x="139.40" y="361.80" font-size="14.5" fill="#2196f3" textLength="58.86" lengthAdjust="spacingAndGlyphs" stroke="#2196f3" stroke-width="0.22">−0.03087</text>
<text x="22.34" y="474.80" font-size="14.5" fill="#131722" textLength="51.96" lengthAdjust="spacingAndGlyphs" stroke="#131722" stroke-width="0.22">RSI (14)</text>
<text x="83.80" y="474.80" font-size="14.5" fill="#7e57c2" textLength="36.36" lengthAdjust="spacingAndGlyphs" stroke="#7e57c2" stroke-width="0.22">28.16</text>
<text x="1589.29" y="55.30" font-size="14.5" fill="#131722" textLength="52.98" lengthAdjust="spacingAndGlyphs" stroke="#131722" stroke-width="0.22">1.12000</text>
<text x="1589.29" y="129.30" font-size="14.5" fill="#131722" textLength="52.98" lengthAdjust="spacingAndGlyphs" stroke="#131722" stroke-width="0.22">1.10000</text>
<text x="1589.29" y="202.30" font-size="14.5" fill="#131722" textLength="52.98" lengthAdjust="spacingAndGlyphs" stroke="#131722" stroke-width="0.22">1.08000</text>
<text x="1589.29" y="276.30" font-size="14.5" fill="#131722" textLength="52.98" lengthAdjust="spacingAndGlyphs" stroke="#131722" stroke-width="0.22">1.06000</text>
<text x="1589.00" y="303.30" font-size="14.5" fill="#fff" textLength="52.26" lengthAdjust="spacingAndGlyphs" stroke="#fff" stroke-width="0.35">1.05253</text>
<text x="1590.00" y="392.30" font-size="14.5" fill="#131722" textLength="52.26" lengthAdjust="spacingAndGlyphs" stroke="#131722" stroke-width="0.22">0.00000</text>
<text x="1589.00" y="436.30" font-size="14.5" fill="#fff" textLength="60.46" lengthAdjust="spacingAndGlyphs" stroke="#fff" stroke-width="0.35">−0.03087</text>
<text x="1589.40" y="457.30" font-size="14.5" fill="#131722" textLength="36.87" lengthAdjust="spacingAndGlyphs" stroke="#131722" stroke-width="0.22" clip-path="url(#cax)">80.00</text>
<text x="1589.40" y="506.30" font-size="14.5" fill="#131722" textLength="36.87" lengthAdjust="spacingAndGlyphs" stroke="#131722" stroke-width="0.22">60.00</text>
<text x="1589.40" y="555.30" font-size="14.5" fill="#131722" textLength="36.87" lengthAdjust="spacingAndGlyphs" stroke="#131722" stroke-width="0.22">40.00</text>
<text x="1589.00" y="584.30" font-size="14.5" fill="#fff" textLength="37.07" lengthAdjust="spacingAndGlyphs" stroke="#fff" stroke-width="0.35">28.16</text>
<text x="46.00" y="617.90" font-size="14.5" fill="#131722" textLength="24.15" lengthAdjust="spacingAndGlyphs" stroke="#131722" stroke-width="0.22" font-weight="700">Apr</text>
<text x="236.89" y="617.90" font-size="14.5" fill="#131722" textLength="27.28" lengthAdjust="spacingAndGlyphs" stroke="#131722" stroke-width="0.22" font-weight="700">May</text>
<text x="438.45" y="617.90" font-size="14.5" fill="#131722" textLength="24.94" lengthAdjust="spacingAndGlyphs" stroke="#131722" stroke-width="0.22" font-weight="700">Jun</text>
<text x="615.87" y="617.90" font-size="14.5" fill="#131722" textLength="20.26" lengthAdjust="spacingAndGlyphs" stroke="#131722" stroke-width="0.22" font-weight="700">Jul</text>
<text x="812.28" y="617.90" font-size="14.5" fill="#131722" textLength="27.26" lengthAdjust="spacingAndGlyphs" stroke="#131722" stroke-width="0.22" font-weight="700">Aug</text>
<text x="1004.57" y="617.90" font-size="14.5" fill="#131722" textLength="25.72" lengthAdjust="spacingAndGlyphs" stroke="#131722" stroke-width="0.22" font-weight="700">Sep</text>
<text x="1188.73" y="617.90" font-size="14.5" fill="#131722" textLength="23.38" lengthAdjust="spacingAndGlyphs" stroke="#131722" stroke-width="0.22" font-weight="700">Oct</text>
<text x="1387.28" y="617.90" font-size="14.5" fill="#131722" textLength="26.50" lengthAdjust="spacingAndGlyphs" stroke="#131722" stroke-width="0.22" font-weight="700">Nov</text>
<text x="1496.88" y="617.90" font-size="14.5" fill="#131722" textLength="16.38" lengthAdjust="spacingAndGlyphs" stroke="#131722" stroke-width="0.22">17</text>
<text x="42.00" y="657.90" font-size="15" fill="#131722" textLength="87.42" lengthAdjust="spacingAndGlyphs" stroke="#131722" stroke-width="0.22">TradingView</text>
<g transform="translate(12.9 642.87) scale(0.6833)" fill="#131722"><path d="M14 22H7V11H0V4h14v18zM28 22h-8l7.5-18h8L28 22z"/><circle cx="20" cy="8" r="4"/></g>
</svg></body></html>
